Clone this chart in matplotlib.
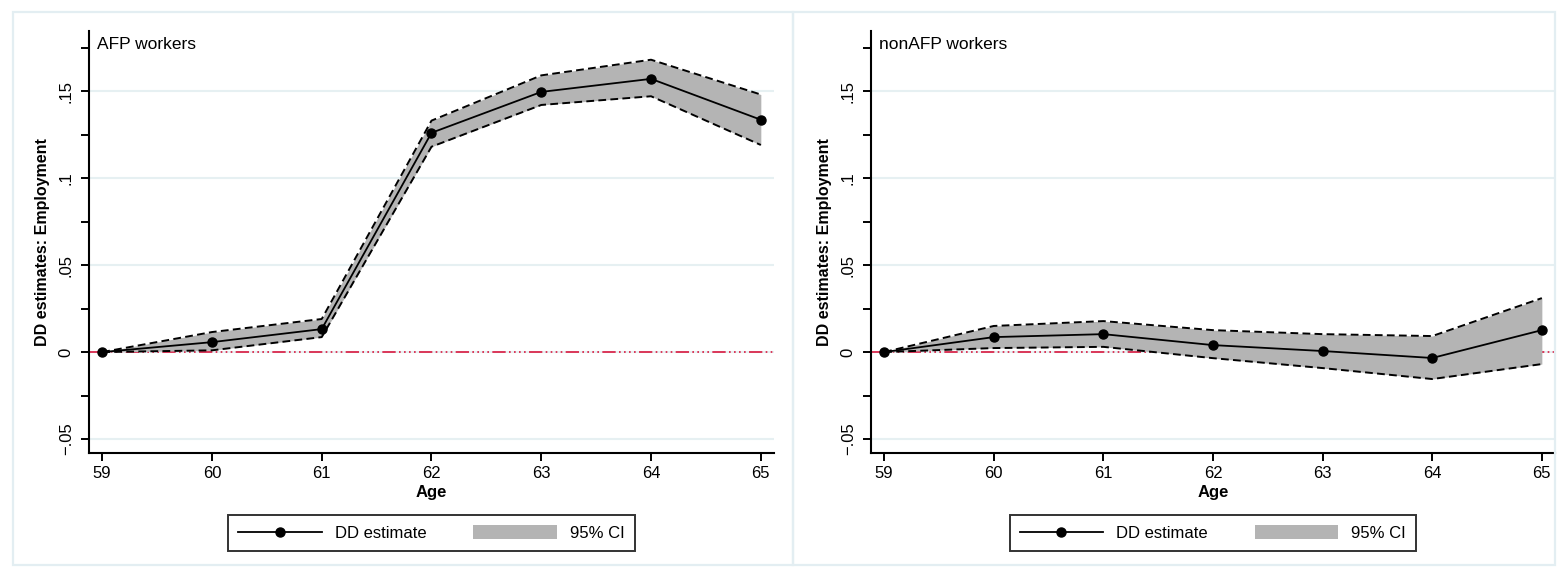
import numpy as np
import matplotlib.pyplot as plt
from matplotlib.patches import Rectangle, Patch
from matplotlib.lines import Line2D

plt.rcParams['font.family'] = ['Liberation Sans', 'DejaVu Sans']

ages = [59, 60, 61, 62, 63, 64, 65]

# AFP workers
afp_est = [0.0, 0.0057, 0.0132, 0.126, 0.1495, 0.157, 0.1335]
afp_lo = [0.0, 0.001, 0.0086, 0.118, 0.142, 0.147, 0.119]
afp_hi = [0.0, 0.0115, 0.019, 0.133, 0.159, 0.168, 0.148]

# nonAFP workers
non_est = [0.0, 0.0086, 0.0103, 0.004, 0.0006, -0.0034, 0.0126]
non_lo = [0.0, 0.0023, 0.003, -0.0035, -0.0092, -0.0155, -0.0069]
non_hi = [0.0, 0.015, 0.0178, 0.0126, 0.0103, 0.0092, 0.031]

panel_titles = ['AFP workers', 'nonAFP workers']
ytick_vals = [-0.05, 0, 0.05, 0.1, 0.15]
ytick_labels = ['\u2212.05', '0', '.05', '.1', '.15']
yminor_vals = [-0.025, 0.025, 0.075, 0.125, 0.175]

W, H = 1560, 574
fig = plt.figure(figsize=(W / 100, H / 100), dpi=100)

frame_col = '#e3eef2'
grid_col = '#e6f0f2'
ci_col = '#b4b4b4'
red = '#d8173e'

# panel frames
for x0, x1 in [(13, 793), (793, 1555)]:
    fig.patches.append(Rectangle((x0 / W, 1 - 565 / H), (x1 - x0) / W, (565 - 12) / H,
                                 transform=fig.transFigure, fill=False,
                                 edgecolor=frame_col, lw=1.6))

axes_px = [(89, 774), (871, 1555)]
data = [(afp_est, afp_lo, afp_hi), (non_est, non_lo, non_hi)]

for (x0, x1), (est, lo, hi), title in zip(axes_px, data, panel_titles):
    ax = fig.add_axes([x0 / W, 1 - 453 / H, (x1 - x0) / W, (453 - 31) / H])
    ax.set_xlim(58.88, 65.12)
    ax.set_ylim(-0.058, 0.1845)

    for v in ytick_vals:
        ax.axhline(v, color=grid_col, lw=1.5, zorder=0)
    ax.axhline(0, color=red, lw=1.2, dashes=(8, 2, 1, 2, 1, 2, 1, 2, 1, 2), zorder=1)

    ax.fill_between(ages, lo, hi, color=ci_col, lw=0, zorder=2)
    ax.plot(ages, lo, color='black', lw=1.4, dashes=(4, 2.2), zorder=3)
    ax.plot(ages, hi, color='black', lw=1.4, dashes=(4, 2.2), zorder=3)
    ax.plot(ages, est, color='black', lw=1.3, marker='o', ms=6.5, zorder=4)

    ax.set_xticks(ages)
    ax.set_yticks(ytick_vals)
    ax.set_yticklabels(ytick_labels, rotation=90, va='center')
    ax.set_yticks(yminor_vals, minor=True)
    ax.tick_params(axis='both', which='both', direction='out', length=6, width=1.4,
                   labelsize=12, pad=3)
    ax.tick_params(axis='y', pad=5)

    for s in ['top', 'right']:
        ax.spines[s].set_visible(False)
    for s in ['left', 'bottom']:
        ax.spines[s].set_linewidth(1.5)

    ax.text(0.012, 0.985, title, transform=ax.transAxes, fontsize=12.5,
            ha='left', va='top')
    ax.set_xlabel('Age', fontsize=12, fontweight='bold', labelpad=3)
    ax.set_ylabel('DD estimates: Employment', fontsize=11.5, fontweight='bold', labelpad=6)

    handles = [Line2D([], [], color='black', lw=1.3, marker='o', ms=6.5),
               Patch(facecolor=ci_col, edgecolor='none')]
    leg = ax.legend(handles, ['DD estimate', '95% CI'], loc='center',
                    bbox_to_anchor=(0.5, -0.19), ncol=2, frameon=True,
                    fancybox=False, edgecolor='black', fontsize=12,
                    handlelength=5, handleheight=0.9, handletextpad=0.8,
                    columnspacing=2.8, borderpad=0.6)
    leg.get_frame().set_linewidth(1.4)

fig.savefig('out.png', dpi=100, facecolor='white')
